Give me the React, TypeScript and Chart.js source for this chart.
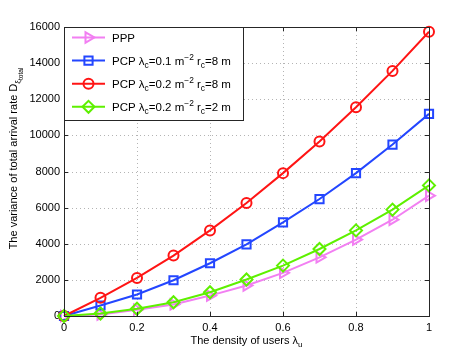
import React, { useEffect, useRef } from 'react';
import { Chart, registerables } from 'chart.js';
import { drawPoint } from 'chart.js/helpers';

Chart.register(...registerables);

// ---------- data ----------
const xValues = [0, 0.1, 0.2, 0.3, 0.4, 0.5, 0.6, 0.7, 0.8, 0.9, 1];
const pppValues = [0, 80, 350, 640, 1130, 1690, 2390, 3250, 4230, 5330, 6660];
const pcpBlueValues = [0, 580, 1190, 1980, 2920, 3970, 5180, 6475, 7910, 9490, 11190];
const pcpRedValues = [0, 1005, 2110, 3343, 4740, 6256, 7910, 9660, 11560, 13570, 15740];
const pcpGreenValues = [0, 140, 400, 760, 1315, 2020, 2790, 3710, 4740, 5890, 7230];
const seriesLabels = [
  'PPP',
  'PCP λ_c=0.1 m^{−2} r_c=8 m',
  'PCP λ_c=0.2 m^{−2} r_c=8 m',
  'PCP λ_c=0.2 m^{−2} r_c=2 m',
];
const xTicks = [0, 0.2, 0.4, 0.6, 0.8, 1];
const yTicks = [0, 2000, 4000, 6000, 8000, 10000, 12000, 14000, 16000];
const xTitle = 'The density of users λ_u';
const yTitleSegments = [
  { t: 'The variance of total arrival rate D', lv: 0 },
  { t: 'ξ', lv: 1 },
  { t: 'total', lv: 2 },
];

const FONT = '"Liberation Sans", Arial, Helvetica, sans-serif';
const BASE = 11;

type Seg = { t: string; lv: number };

function parseRich(s: string): Seg[] {
  const out: Seg[] = [];
  let buf = '';
  const flush = () => {
    if (buf) out.push({ t: buf, lv: 0 });
    buf = '';
  };
  for (let i = 0; i < s.length; i++) {
    const c = s[i];
    if (c === '_') {
      flush();
      out.push({ t: s[i + 1], lv: 1 });
      i += 1;
    } else if (c === '^' && s[i + 1] === '{') {
      flush();
      const end = s.indexOf('}', i);
      out.push({ t: s.slice(i + 2, end), lv: -1 });
      i = end;
    } else buf += c;
  }
  flush();
  return out;
}

function segFont(lv: number, base: number) {
  const a = Math.abs(lv);
  const size = a === 0 ? base : a === 1 ? base * 0.73 : base * 0.6;
  return `${size}px ${FONT}`;
}
function segDy(lv: number) {
  if (lv === 0) return 0;
  if (lv < 0) return -5;
  return lv === 1 ? 3 : 6;
}
function richWidth(ctx: CanvasRenderingContext2D, segs: Seg[], base: number) {
  let w = 0;
  for (const s of segs) {
    ctx.font = segFont(s.lv, base);
    w += ctx.measureText(s.t).width;
  }
  return w;
}
function drawRich(ctx: CanvasRenderingContext2D, segs: Seg[], x: number, y: number, base: number) {
  ctx.textBaseline = 'alphabetic';
  ctx.textAlign = 'left';
  for (const s of segs) {
    ctx.font = segFont(s.lv, base);
    ctx.fillText(s.t, x, y + segDy(s.lv));
    x += ctx.measureText(s.t).width;
  }
}

const COLORS = ['#f27ff2', '#2346ff', '#ff1414', '#5ef000'];
const STYLES: any[] = [
  { pointStyle: 'triangle', rotation: 90, radius: 6 },
  { pointStyle: 'rect', rotation: 0, radius: 5.8 },
  { pointStyle: 'circle', rotation: 0, radius: 5 },
  { pointStyle: 'rectRot', rotation: 0, radius: 6 },
];

const gridPlugin = {
  id: 'matlabGrid',
  beforeDatasetsDraw(chart: any) {
    const ctx: CanvasRenderingContext2D = chart.ctx;
    const a = chart.chartArea;
    const xs = chart.scales.x;
    const ys = chart.scales.y;
    ctx.save();
    ctx.strokeStyle = '#b4b4b4';
    ctx.lineWidth = 1;
    ctx.setLineDash([1, 3]);
    ctx.beginPath();
    for (const v of xTicks) {
      const px = Math.round(xs.getPixelForValue(v)) + 0.5;
      ctx.moveTo(px, a.bottom);
      ctx.lineTo(px, a.top);
    }
    for (const v of yTicks) {
      const py = Math.round(ys.getPixelForValue(v)) + 0.5;
      ctx.moveTo(a.left, py);
      ctx.lineTo(a.right, py);
    }
    ctx.stroke();
    ctx.restore();
  },
};

const framePlugin = {
  id: 'matlabFrame',
  afterDraw(chart: any) {
    const ctx: CanvasRenderingContext2D = chart.ctx;
    const a = chart.chartArea;
    const xs = chart.scales.x;
    const ys = chart.scales.y;
    ctx.save();
    // frame
    ctx.strokeStyle = '#262626';
    ctx.lineWidth = 1;
    ctx.strokeRect(Math.round(a.left) + 0.5, Math.round(a.top) + 0.5, Math.round(a.right - a.left), Math.round(a.bottom - a.top));
    // inward ticks
    ctx.beginPath();
    for (const v of xTicks) {
      const px = Math.round(xs.getPixelForValue(v)) + 0.5;
      ctx.moveTo(px, a.bottom);
      ctx.lineTo(px, a.bottom - 4);
      ctx.moveTo(px, a.top);
      ctx.lineTo(px, a.top + 4);
    }
    for (const v of yTicks) {
      const py = Math.round(ys.getPixelForValue(v)) + 0.5;
      ctx.moveTo(a.left, py);
      ctx.lineTo(a.left + 4, py);
      ctx.moveTo(a.right, py);
      ctx.lineTo(a.right - 4, py);
    }
    ctx.stroke();

    // legend
    const lx = Math.round(a.left) + 0.5;
    const ly = Math.round(a.top) + 0.5;
    const lw = 179;
    const lh = 93;
    ctx.fillStyle = '#ffffff';
    ctx.fillRect(lx, ly, lw, lh);
    ctx.strokeStyle = '#262626';
    ctx.strokeRect(lx, ly, lw, lh);
    seriesLabels.forEach((label, i) => {
      const cy = a.top + 10.5 + i * 23.1;
      ctx.strokeStyle = COLORS[i];
      ctx.lineWidth = 2;
      ctx.beginPath();
      ctx.moveTo(a.left + 8, cy);
      ctx.lineTo(a.left + 41, cy);
      ctx.stroke();
      ctx.fillStyle = 'rgba(0,0,0,0)';
      drawPoint(ctx, { ...STYLES[i], borderWidth: 2 } as any, a.left + 24.5, cy);
      ctx.fillStyle = '#000';
      drawRich(ctx, parseRich(label), a.left + 48, cy + 4, 11.5);
    });

    // x title
    ctx.fillStyle = '#000';
    const xsegs = parseRich(xTitle);
    const xw = richWidth(ctx, xsegs, BASE);
    drawRich(ctx, xsegs, (a.left + a.right) / 2 - xw / 2, a.bottom + 28, BASE);

    // y title
    const yw = richWidth(ctx, yTitleSegments, BASE);
    ctx.translate(17, (a.top + a.bottom) / 2 - 13);
    ctx.rotate(-Math.PI / 2);
    drawRich(ctx, yTitleSegments, -yw / 2, 0, BASE);
    ctx.restore();
  },
};

export default function App() {
  const ref = useRef<HTMLCanvasElement | null>(null);
  useEffect(() => {
    document.body.style.margin = '0';
    const canvas = ref.current!;
    const seriesValues = [pppValues, pcpBlueValues, pcpRedValues, pcpGreenValues];
    const chart = new Chart(canvas, {
      type: 'line',
      data: {
        datasets: seriesValues.map((vals, i) => ({
          label: seriesLabels[i],
          data: xValues.map((x, j) => ({ x, y: vals[j] })),
          borderColor: COLORS[i],
          backgroundColor: 'rgba(0,0,0,0)',
          borderWidth: 2,
          pointStyle: STYLES[i].pointStyle,
          pointRotation: STYLES[i].rotation,
          pointRadius: STYLES[i].radius,
          pointBorderWidth: 2,
          pointBorderColor: COLORS[i],
          pointBackgroundColor: 'rgba(0,0,0,0)',
          tension: 0,
          order: 4 - i,
          clip: false as any,
        })),
      },
      options: {
        animation: false,
        responsive: false,
        devicePixelRatio: 1,
        layout: { padding: { left: 0, top: 27, right: 45, bottom: 0 } },
        plugins: { legend: { display: false }, tooltip: { enabled: false } },
        scales: {
          x: {
            type: 'linear',
            min: 0,
            max: 1,
            afterBuildTicks: (s: any) => {
              s.ticks = xTicks.map((v) => ({ value: v }));
            },
            afterFit: (s: any) => {
              s.height = 41;
            },
            border: { display: false },
            grid: { display: false, drawTicks: false },
            ticks: {
              padding: 5,
              maxRotation: 0,
              color: '#000',
              font: { family: FONT, size: BASE },
              callback: (v: any) => String(v),
            },
          },
          y: {
            type: 'linear',
            min: 0,
            max: 16000,
            afterBuildTicks: (s: any) => {
              s.ticks = yTicks.map((v) => ({ value: v }));
            },
            afterFit: (s: any) => {
              s.width = 64;
            },
            border: { display: false },
            grid: { display: false, drawTicks: false },
            ticks: {
              padding: 4,
              color: '#000',
              font: { family: FONT, size: BASE },
              callback: (v: any) => String(v),
            },
          },
        },
      },
      plugins: [gridPlugin, framePlugin],
    } as any);
    return () => chart.destroy();
  }, []);
  return (
    <div style={{ width: 474, height: 357 }}>
      <canvas ref={ref} width={474} height={357} style={{ display: 'block', width: 474, height: 357 }} />
    </div>
  );
}
